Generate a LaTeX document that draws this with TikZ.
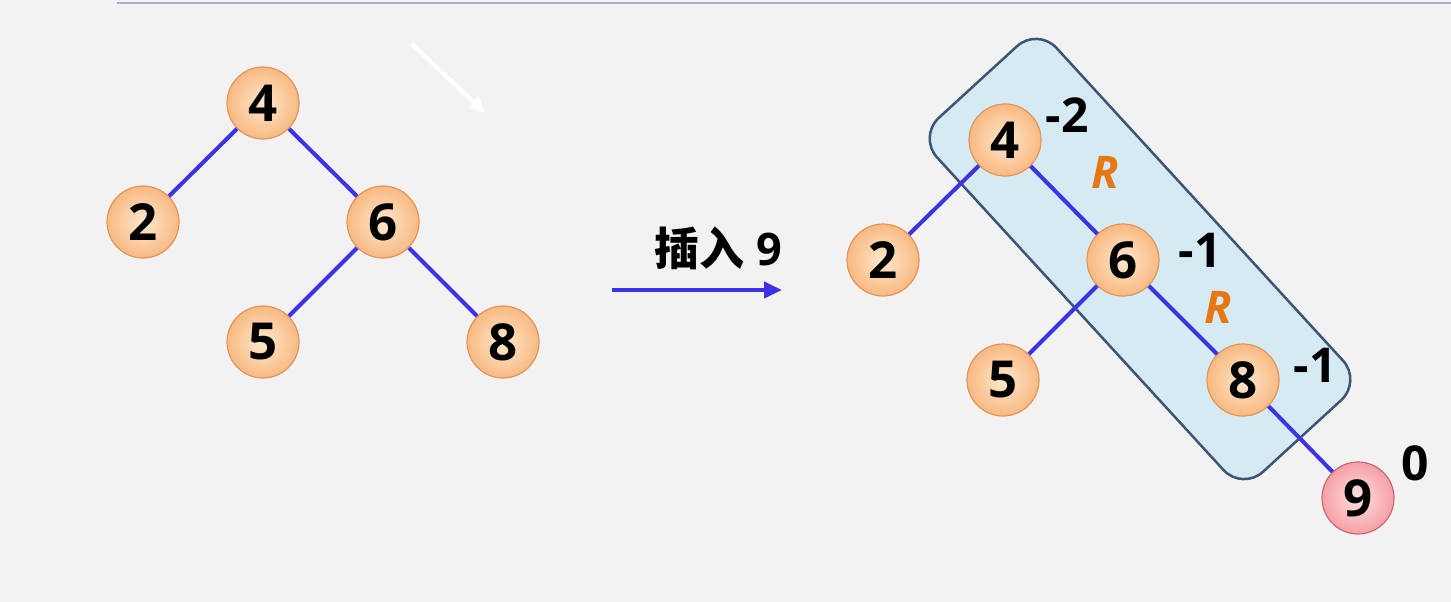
\documentclass[tikz,border=0pt]{standalone}
\usepackage{fontspec}
\setmainfont{Open Sans}
\newfontfamily\cjk{Noto Sans CJK SC}
\usetikzlibrary{arrows.meta}
\definecolor{bg}{RGB}{242,242,242}
\definecolor{topline}{RGB}{165,175,205}
\definecolor{edgeblue}{RGB}{60,50,230}
\definecolor{nodein}{RGB}{255,232,205}
\definecolor{nodeout}{RGB}{248,185,130}
\definecolor{nodeedge}{RGB}{225,150,90}
\definecolor{hotin}{RGB}{255,225,225}
\definecolor{hotout}{RGB}{244,160,165}
\definecolor{hotedge}{RGB}{200,105,115}
\definecolor{boxfill}{RGB}{214,234,244}
\definecolor{boxedge}{RGB}{60,85,115}
\definecolor{rot}{RGB}{230,120,20}

\begin{document}
\begin{tikzpicture}[x=1pt, y=1pt,
  nd/.style={circle, draw=nodeedge, line width=1.2pt, inner color=nodein,
             outer color=nodeout, minimum size=72pt, inner sep=0pt,
             font=\fontsize{51}{51}\selectfont\bfseries},
  hot/.style={nd, draw=hotedge, inner color=hotin, outer color=hotout},
  e/.style={edgeblue, line width=4pt},
  lab/.style={inner sep=0pt, font=\fontsize{48}{48}\selectfont\bfseries},
  rr/.style={lab, text=rot, font=\fontsize{45}{45}\selectfont\bfseries\itshape},
  grp/.style={draw=boxedge, line width=2.5pt, fill=boxfill, rounded corners=28pt,
              minimum width=480pt, minimum height=162pt, inner sep=0pt}]
\fill[bg] (0,0) rectangle (1451,-602);
\useasboundingbox (0,0) rectangle (1451,-602);
% top rule and pointer
\coordinate (t0) at (117,-3);
\coordinate (t1) at (1451,-3);
\draw[topline, line width=2pt] (t0) -- (t1);
\coordinate (p0) at (412,-44);
\coordinate (p1) at (485,-113);
\draw[white, line width=4pt, -{Triangle[length=16pt, width=14pt]}] (p0) -- (p1);
% tree before insertion
\node[nd] (l4) at (263,-103) {4};
\node[nd] (l2) at (143,-222) {2};
\node[nd] (l6) at (383,-222) {6};
\node[nd] (l5) at (263,-342) {5};
\node[nd] (l8) at (503,-342) {8};
\foreach \a/\b in {l4/l2, l4/l6, l6/l5, l6/l8}
  \draw[e] (\a) -- (\b);
% insert arrow
\coordinate (a0) at (612,-290);
\coordinate (a1) at (782,-290);
\draw[e, -{Triangle[length=18pt, width=16pt]}] (a0) -- (a1);
\node[lab, font=\fontsize{45}{45}\selectfont\bfseries] (ins) at (718,-248) {{\cjk 插入} 9};
% tree after insertion
\node[grp, rotate=-47.5] (rrbox) at (1140,-259) {};
\node[nd] (r4) at (1005,-140) {4};
\node[nd] (r2) at (883,-260) {2};
\node[nd] (r6) at (1123,-260) {6};
\node[nd] (r5) at (1003,-380) {5};
\node[nd] (r8) at (1243,-380) {8};
\node[hot] (r9) at (1358,-498) {9};
\foreach \a/\b in {r4/r2, r4/r6, r6/r5, r6/r8, r8/r9}
  \draw[e] (\a) -- (\b);
% balance factors
\node[lab] (b4) at (1067,-115) {-2};
\node[lab] (b6) at (1200,-250) {-1};
\node[lab] (b8) at (1315,-365) {-1};
\node[lab] (b9) at (1415,-463) {0};
\node[rr] (rot1) at (1105,-172) {R};
\node[rr] (rot2) at (1218,-307) {R};
\end{tikzpicture}
\end{document}
